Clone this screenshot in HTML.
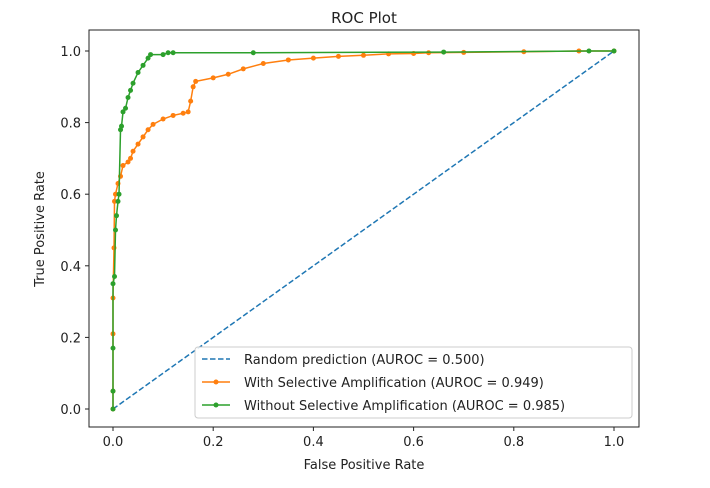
<!DOCTYPE html>
<html><head><meta charset="utf-8"><style>
body{margin:0;background:#fff;}
svg text{font-family:"DejaVu Sans","Liberation Sans",sans-serif;fill:#222;}
</style></head><body>
<svg width="710" height="483" viewBox="0 0 710 483">
<rect width="710" height="483" fill="#fff"/>
<text x="364" y="23" text-anchor="middle" font-size="15">ROC Plot</text>
<g id="axes"></g>
<g id="series"></g>
<rect x="89" y="30" width="550" height="397" fill="none" stroke="#222" stroke-width="1"/>
<text x="364" y="469" text-anchor="middle" font-size="13">False Positive Rate</text>
<text transform="translate(44,229) rotate(-90)" text-anchor="middle" font-size="13">True Positive Rate</text>
<g>
<rect x="195" y="347" width="437" height="71" rx="3" fill="#fff" fill-opacity="0.85" stroke="#ccc"/>
<line x1="202" y1="359" x2="230" y2="359" stroke="#1f77b4" stroke-width="1.5" stroke-dasharray="5.5,2.5"/>
<text x="244" y="364" font-size="13">Random prediction (AUROC = 0.500)</text>
<line x1="202" y1="382" x2="230" y2="382" stroke="#ff7f0e" stroke-width="1.5"/><circle cx="216" cy="382" r="2.5" fill="#ff7f0e"/>
<text x="244" y="387" font-size="13">With Selective Amplification (AUROC = 0.949)</text>
<line x1="202" y1="405" x2="230" y2="405" stroke="#2ca02c" stroke-width="1.5"/><circle cx="216" cy="405" r="2.5" fill="#2ca02c"/>
<text x="244" y="410" font-size="13">Without Selective Amplification (AUROC = 0.985)</text>
</g>
</svg>
<script>
const ticks=[0,0.2,0.4,0.6,0.8,1.0];
const tickLabels=["0.0","0.2","0.4","0.6","0.8","1.0"];
const randomFpr=[0,1];
const randomTpr=[0,1];
const withFpr=[0,0,0,0,0.002,0.003,0.005,0.01,0.015,0.02,0.03,0.035,0.04,0.05,0.06,0.07,0.08,0.1,0.12,0.14,0.15,0.155,0.16,0.165,0.2,0.23,0.26,0.3,0.35,0.4,0.45,0.5,0.55,0.6,0.63,0.7,0.82,0.93,1];
const withTpr=[0,0.05,0.21,0.31,0.45,0.58,0.6,0.63,0.65,0.68,0.69,0.7,0.72,0.74,0.76,0.78,0.795,0.81,0.82,0.826,0.83,0.86,0.9,0.915,0.925,0.935,0.95,0.965,0.975,0.98,0.985,0.988,0.992,0.993,0.995,0.996,0.998,1,1];
const withoutFpr=[0,0,0,0,0.003,0.005,0.007,0.01,0.012,0.015,0.017,0.02,0.025,0.03,0.035,0.04,0.05,0.06,0.07,0.075,0.1,0.11,0.12,0.28,0.66,0.95,1];
const withoutTpr=[0,0.05,0.17,0.35,0.37,0.5,0.54,0.58,0.6,0.78,0.79,0.83,0.84,0.87,0.89,0.91,0.94,0.96,0.98,0.99,0.99,0.995,0.995,0.995,0.997,1,1];
const X=v=>113+501*v, Y=v=>409-358*v;
const NS="http://www.w3.org/2000/svg";
const ax=document.getElementById('axes'), sr=document.getElementById('series');
function mk(t,a,p){const e=document.createElementNS(NS,t);for(const k in a)e.setAttribute(k,a[k]);p.appendChild(e);return e;}
ticks.forEach((t,i)=>{
 mk('line',{x1:X(t),x2:X(t),y1:427,y2:431,stroke:'#222'},ax);
 const tx=mk('text',{x:X(t),y:446,'text-anchor':'middle','font-size':13},ax);tx.textContent=tickLabels[i];
 
 
 mk('line',{x1:85,x2:89,y1:Y(t),y2:Y(t),stroke:'#222'},ax);
 const ty=mk('text',{x:81,y:Y(t)+5,'text-anchor':'end','font-size':13},ax);ty.textContent=tickLabels[i];
 
 
});
function series(xs,ys,color,name,dash,markers){
 const g=mk('g',{},sr);
 
 
 const pts=xs.map((x,i)=>X(x)+','+Y(ys[i])).join(' ');
 const a={points:pts,fill:'none',stroke:color,'stroke-width':1.5};
 if(dash)a['stroke-dasharray']='5.5,2.5';
 mk('polyline',a,g);
 if(markers)xs.forEach((x,i)=>{const c=mk('circle',{cx:X(x),cy:Y(ys[i]),r:2.5,fill:color},g);
  
  });
}
series(randomFpr,randomTpr,'#1f77b4','random-line',true,false);
series(withFpr,withTpr,'#ff7f0e','with-amplification-line',false,true);
series(withoutFpr,withoutTpr,'#2ca02c','without-amplification-line',false,true);
</script>
</body></html>
